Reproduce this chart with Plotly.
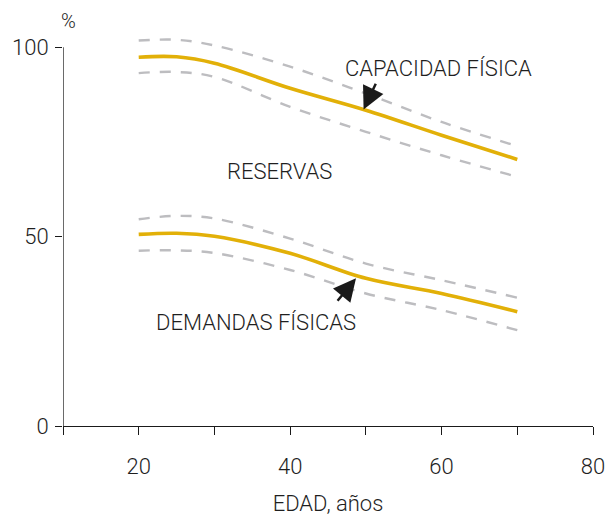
import plotly.graph_objects as go

# Age (years) sampled along each curve
edad = [20, 25, 30, 40, 50, 60, 70]

# Physical capacity (%), with upper/lower band
capacidad = [97.4, 97.5, 95.8, 89.2, 83.4, 76.8, 70.4]
capacidad_sup = [101.8, 102.0, 100.5, 94.9, 87.8, 80.3, 73.9]
capacidad_inf = [93.2, 93.5, 92.2, 84.3, 77.7, 71.5, 65.8]

# Physical demands (%), with upper/lower band
demandas = [50.6, 50.9, 50.1, 45.6, 39.0, 35.0, 30.2]
demandas_sup = [54.6, 55.5, 54.8, 49.5, 42.9, 38.5, 33.9]
demandas_inf = [46.3, 46.4, 45.7, 41.2, 35.0, 30.6, 25.3]

x_ticks = [10, 20, 30, 40, 50, 60, 70, 80]
x_labels = ["", "20", "", "40", "", "60", "", "80"]
y_ticks = [0, 50, 100]

GOLD = "#E2B008"
GREY = "#BDBDC0"
TXT = "#1f1f1f"
AX = "#1a1a1a"
FONT = "Roboto"
FS = 22

fig = go.Figure()

for band in (capacidad_sup, capacidad_inf, demandas_sup, demandas_inf):
    fig.add_trace(go.Scatter(
        x=edad, y=band, mode="lines", line_shape="spline",
        line=dict(color=GREY, width=2.4, dash="11px,10px"),
        hoverinfo="skip", showlegend=False))

for serie in (capacidad, demandas):
    fig.add_trace(go.Scatter(
        x=edad, y=serie, mode="lines", line_shape="spline",
        line=dict(color=GOLD, width=3.6),
        showlegend=False))

label_font = dict(family=FONT, size=FS, color=TXT, weight=300)
fig.add_annotation(x=59.6, y=94.5, text="CAPACIDAD FÍSICA", showarrow=False, font=label_font)
fig.add_annotation(x=38.6, y=67.3, text="RESERVAS", showarrow=False, font=label_font)
fig.add_annotation(x=35.5, y=27.4, text="DEMANDAS FÍSICAS", showarrow=False, font=label_font)

# Pointer arrows onto the curves
for hx, hy, tx, ty in ((49.7, 83.6, 51.4, 90.8), (48.7, 39.0, 46.1, 32.7)):
    fig.add_annotation(x=hx, y=hy, ax=tx, ay=ty, xref="x", yref="y", axref="x", ayref="y",
                       text="", showarrow=True, arrowhead=2, arrowsize=1.8, arrowwidth=2.5,
                       arrowcolor=AX)

fig.add_annotation(x=10, y=100, xref="x", yref="y", text="%", showarrow=False,
                   xanchor="center", yanchor="bottom", yshift=12, xshift=5,
                   font=dict(family=FONT, size=20, color=TXT, weight=300))

# Vertical axis line stops at 100 while the data range leaves headroom above it
fig.add_shape(type="line", xref="x", yref="y", x0=10, x1=10, y0=0, y1=100,
              line=dict(color=AX, width=1.3))

tick_font = dict(family=FONT, size=FS, color=TXT, weight=300)

fig.update_xaxes(range=[10, 80], tickvals=x_ticks, ticktext=x_labels, automargin=False,
                 showgrid=False, zeroline=False, showline=True, linecolor=AX, linewidth=1.3,
                 ticks="outside", tickcolor=AX, tickwidth=1.3, ticklen=8,
                 ticklabelstandoff=12, tickfont=tick_font,
                 title=dict(text="EDAD, años", font=tick_font, standoff=18))
fig.update_yaxes(range=[0, 103], tickvals=y_ticks, automargin=False,
                 showgrid=False, zeroline=False, showline=False,
                 ticks="outside", tickcolor=AX, tickwidth=1.3, ticklen=7,
                 ticklabelstandoff=2, tickfont=tick_font)

fig.update_layout(width=607, height=518, margin=dict(l=63, r=14, t=36, b=92),
                  plot_bgcolor="white", paper_bgcolor="white")

fig.write_html("out.html")
